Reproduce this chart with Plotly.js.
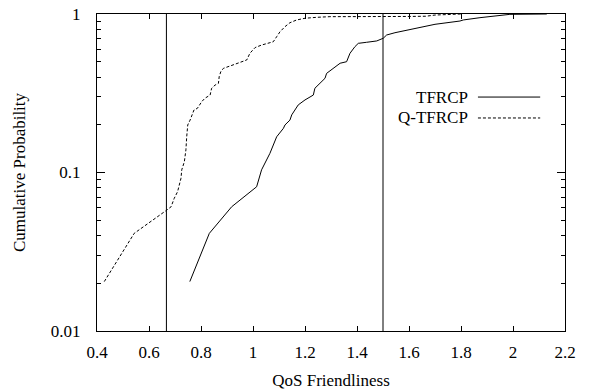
<!DOCTYPE html>
<html>
<head>
<meta charset="utf-8">
<script src="https://cdn.plot.ly/plotly-3.0.1.min.js"></script>
<style>html,body{margin:0;padding:0;background:#fff;}#chart{width:589px;height:392px;}</style>
</head>
<body>
<div id="chart"></div>
<script>
// TFRCP (solid) cumulative distribution
const tfrcpX = [0.757, 0.832, 0.918, 1.014, 1.033, 1.065, 1.091, 1.117, 1.123, 1.142, 1.149, 1.174, 1.200, 1.232, 1.238, 1.251, 1.277, 1.283, 1.315, 1.335, 1.360, 1.373, 1.392, 1.405, 1.437, 1.476, 1.501, 1.514, 1.546, 1.565, 1.617, 1.636, 1.700, 1.796, 1.809, 1.873, 1.937, 1.988, 2.13];
const tfrcpY = [0.0205, 0.0413, 0.0608, 0.0813, 0.104, 0.132, 0.168, 0.19, 0.1995, 0.214, 0.231, 0.267, 0.287, 0.308, 0.34, 0.356, 0.393, 0.422, 0.465, 0.489, 0.5, 0.565, 0.622, 0.653, 0.663, 0.676, 0.703, 0.737, 0.762, 0.773, 0.804, 0.82, 0.861, 0.903, 0.917, 0.948, 0.976, 0.995, 1.0];
// Q-TFRCP (dashed) cumulative distribution
const qtfrcpX = [0.428, 0.543, 0.665, 0.685, 0.697, 0.710, 0.723, 0.726, 0.736, 0.742, 0.745, 0.749, 0.758, 0.773, 0.786, 0.803, 0.815, 0.835, 0.841, 0.854, 0.867, 0.870, 0.876, 0.886, 0.912, 0.943, 0.976, 0.988, 1.008, 1.033, 1.059, 1.078, 1.091, 1.104, 1.123, 1.142, 1.168, 1.200, 1.245, 1.296, 1.60, 1.665, 1.70, 1.75, 1.80];
const qtfrcpY = [0.0205, 0.0413, 0.0574, 0.0608, 0.0687, 0.0757, 0.092, 0.104, 0.117, 0.139, 0.168, 0.1995, 0.214, 0.248, 0.254, 0.28, 0.294, 0.308, 0.34, 0.356, 0.365, 0.402, 0.432, 0.454, 0.47, 0.493, 0.513, 0.565, 0.614, 0.637, 0.659, 0.668, 0.719, 0.773, 0.832, 0.881, 0.917, 0.94, 0.953, 0.962, 0.965, 0.968, 0.985, 0.99, 1.0];
// reference vertical lines
const refLinesX = [0.667, 1.5];
// axis ticks
const xTickVals = [0.4, 0.6, 0.8, 1, 1.2, 1.4, 1.6, 1.8, 2, 2.2];
const xTickText = ["0.4", "0.6", "0.8", "1", "1.2", "1.4", "1.6", "1.8", "2", "2.2"];
const yTickVals = [0.01, 0.1, 1];
const yTickText = ["0.01", "0.1", "1"];
const yMinorVals = [0.02,0.03,0.04,0.05,0.06,0.07,0.08,0.09,0.2,0.3,0.4,0.5,0.6,0.7,0.8,0.9];
const seriesNames = ["TFRCP", "Q-TFRCP"];

const font = {family: "Times New Roman, Times, Liberation Serif, DejaVu Serif, serif", size: 17, color: "#000"};

const traces = [
  {x: tfrcpX, y: tfrcpY, name: seriesNames[0], type: "scatter", mode: "lines",
   line: {color: "#000", width: 1}, showlegend: false},
  {x: qtfrcpX, y: qtfrcpY, name: seriesNames[1], type: "scatter", mode: "lines",
   line: {color: "#000", width: 1, dash: "3px,2px"}, showlegend: false}
];

const shapes = refLinesX.map(v => ({type: "line", xref: "x", yref: "paper", x0: v, x1: v, y0: 0, y1: 1,
  line: {color: "#000", width: 1}}));
// key samples (gnuplot style: text left, sample right)
shapes.push({type: "line", xref: "paper", yref: "paper", x0: 0.814, x1: 0.947, y0: 0.738, y1: 0.738, line: {color: "#000", width: 1}});
shapes.push({type: "line", xref: "paper", yref: "paper", x0: 0.814, x1: 0.947, y0: 0.672, y1: 0.672, line: {color: "#000", width: 1, dash: "3px,2px"}});

const annotations = [
  {text: seriesNames[0], xref: "paper", yref: "paper", x: 0.797, y: 0.738, xanchor: "right", yanchor: "middle", showarrow: false, font: font},
  {text: seriesNames[1], xref: "paper", yref: "paper", x: 0.797, y: 0.672, xanchor: "right", yanchor: "middle", showarrow: false, font: font}
];

const layout = {
  width: 589, height: 392,
  margin: {l: 97, r: 24, t: 14, b: 61, pad: 0},
  paper_bgcolor: "#fff", plot_bgcolor: "#fff",
  font: font,
  showlegend: false,
  xaxis: {
    range: [0.4, 2.2], tickmode: "array", tickvals: xTickVals, ticktext: xTickText,
    ticks: "inside", ticklen: 5, tickcolor: "#000", tickwidth: 1,
    showline: true, linecolor: "#000", linewidth: 1, mirror: "allticks",
    showgrid: false, zeroline: false, ticklabelstandoff: 6, tickfont: font,
    title: {text: "QoS Friendliness", font: font, standoff: 12}
  },
  yaxis: {
    type: "log", range: [-2, 0], tickmode: "array", tickvals: yTickVals, ticktext: yTickText,
    ticks: "inside", ticklen: 8, tickcolor: "#000", tickwidth: 1,
    minor: {tickmode: "array", tickvals: yMinorVals, ticks: "inside", ticklen: 4, tickcolor: "#000", showgrid: false},
    showline: true, linecolor: "#000", linewidth: 1, mirror: "allticks",
    showgrid: false, zeroline: false, ticklabelstandoff: 12, tickfont: font,
    title: {text: "Cumulative Probability", font: font, standoff: 20}
  },
  shapes: shapes,
  annotations: annotations
};

Plotly.newPlot("chart", traces, layout, {staticPlot: true, displayModeBar: false});
</script>
</body>
</html>
